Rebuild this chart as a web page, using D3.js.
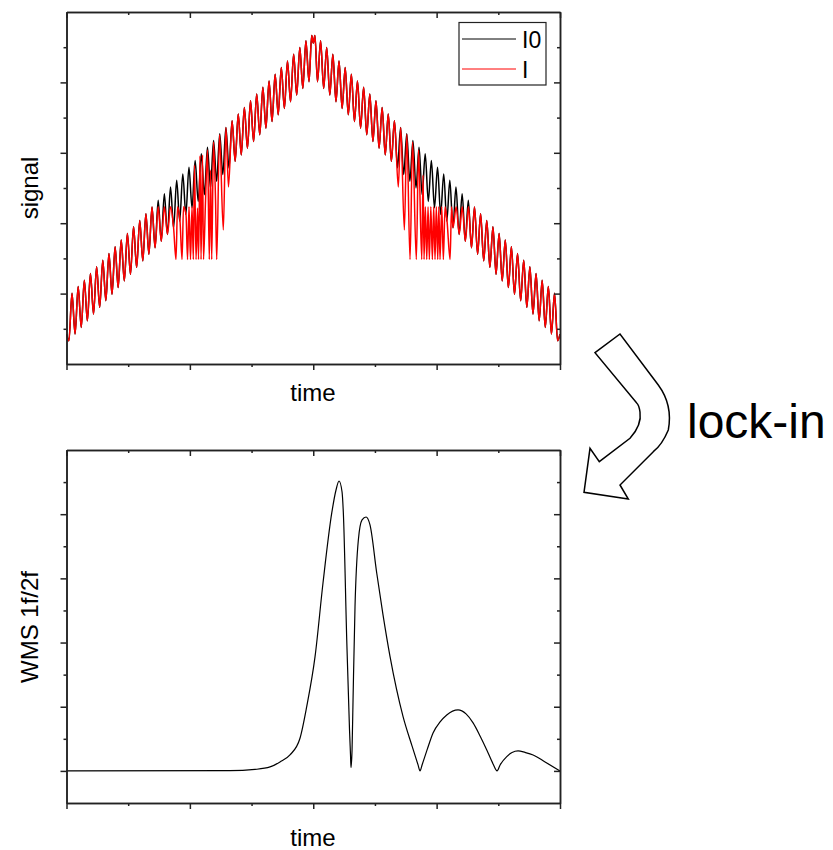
<!DOCTYPE html>
<html>
<head>
<meta charset="utf-8">
<script src="https://cdn.jsdelivr.net/npm/d3@7"></script>
<style>
    body { margin: 0; background: #fff; }
    text { font-family: "Liberation Sans", Arial, sans-serif; fill: #000; }
</style>
</head>
<body>
<div id="chart"></div>
<script>
// tick positions (time axis shared by both panels)
const xMajor = [0, 2, 4, 6, 8];
const xMinor = [1, 3, 5, 7];
const signalMajor = [2, 4, 6, 8];
const signalMinor = [1, 3, 5, 7, 9];
const wmsMajor = [0, 1, 2, 3, 4];
const wmsMinor = [0.5, 1.5, 2.5, 3.5, 4.5];

const seriesNames = ['I0', 'I'];

// I0: modulated ramp, [time, signal] read peak/trough by peak/trough
const i0Points = [
    [0, 0.85], [0.039, 0.66], [0.089, 2.01], [0.139, 0.85], [0.189, 2.20], [0.239, 1.04], [0.289, 2.38],
    [0.338, 1.23], [0.388, 2.57], [0.438, 1.42], [0.488, 2.76], [0.538, 1.61], [0.588, 2.95], [0.638, 1.80],
    [0.688, 3.14], [0.738, 1.98], [0.788, 3.33], [0.837, 2.17], [0.887, 3.52], [0.937, 2.36], [0.987, 3.71],
    [1.037, 2.55], [1.087, 3.90], [1.137, 2.74], [1.187, 4.08], [1.237, 2.93], [1.287, 4.27], [1.336, 3.12],
    [1.386, 4.46], [1.436, 3.30], [1.486, 4.65], [1.536, 3.49], [1.586, 4.84], [1.636, 3.68], [1.686, 5.03],
    [1.736, 3.87], [1.786, 5.22], [1.835, 4.06], [1.885, 5.40], [1.935, 4.25], [1.985, 5.59], [2.035, 4.44],
    [2.085, 5.78], [2.135, 4.62], [2.185, 5.97], [2.235, 4.81], [2.285, 6.16], [2.334, 5.00], [2.384, 6.35],
    [2.434, 5.19], [2.484, 6.54], [2.534, 5.38], [2.584, 6.72], [2.634, 5.57], [2.684, 6.91], [2.734, 5.76],
    [2.784, 7.10], [2.833, 5.94], [2.883, 7.29], [2.933, 6.13], [2.983, 7.48], [3.033, 6.32], [3.083, 7.67],
    [3.133, 6.51], [3.183, 7.86], [3.233, 6.70], [3.283, 8.04], [3.332, 6.89], [3.382, 8.23], [3.432, 7.08],
    [3.482, 8.42], [3.532, 7.26], [3.582, 8.61], [3.632, 7.45], [3.682, 8.80], [3.732, 7.64], [3.782, 8.99],
    [3.831, 7.83], [3.881, 9.18], [3.931, 8.02], [3.975, 9.33], [4.001, 9.12], [4.027, 9.33], [4.069, 8.02],
    [4.119, 9.18], [4.169, 7.83], [4.218, 8.99], [4.268, 7.64], [4.318, 8.80], [4.368, 7.45], [4.418, 8.61],
    [4.468, 7.26], [4.518, 8.42], [4.568, 7.08], [4.618, 8.23], [4.668, 6.89], [4.717, 8.04], [4.767, 6.70],
    [4.817, 7.86], [4.867, 6.51], [4.917, 7.67], [4.967, 6.32], [5.017, 7.48], [5.067, 6.13], [5.117, 7.29],
    [5.167, 5.94], [5.216, 7.10], [5.266, 5.76], [5.316, 6.91], [5.366, 5.57], [5.416, 6.72], [5.466, 5.38],
    [5.516, 6.54], [5.566, 5.19], [5.616, 6.35], [5.666, 5.00], [5.715, 6.16], [5.765, 4.81], [5.815, 5.97],
    [5.865, 4.62], [5.915, 5.78], [5.965, 4.44], [6.015, 5.59], [6.065, 4.25], [6.115, 5.40], [6.165, 4.06],
    [6.214, 5.22], [6.264, 3.87], [6.314, 5.03], [6.364, 3.68], [6.414, 4.84], [6.464, 3.49], [6.514, 4.65],
    [6.564, 3.30], [6.614, 4.46], [6.664, 3.12], [6.713, 4.27], [6.763, 2.93], [6.813, 4.08], [6.863, 2.74],
    [6.913, 3.90], [6.963, 2.55], [7.013, 3.71], [7.063, 2.36], [7.113, 3.52], [7.163, 2.17], [7.212, 3.33],
    [7.262, 1.98], [7.312, 3.14], [7.362, 1.80], [7.412, 2.95], [7.462, 1.61], [7.512, 2.76], [7.562, 1.42],
    [7.612, 2.57], [7.662, 1.23], [7.711, 2.38], [7.761, 1.04], [7.811, 2.20], [7.861, 0.85], [7.911, 2.01],
    [7.961, 0.66], [8, 0.85]
];

// I: same as I0 except inside the two absorption windows
const iLeftWindow = [
    [1.486, 4.47], [1.536, 3.49], [1.587, 4.47], [1.637, 3.68], [1.686, 4.47], [1.736, 3.87], [1.775, 2.97],
    [1.800, 4.47], [1.840, 4.06], [1.873, 2.97], [1.897, 4.47], [1.937, 4.25], [1.962, 2.97], [1.986, 4.47],
    [2.010, 2.97], [2.035, 4.47], [2.056, 2.97], [2.075, 5.65], [2.100, 2.97], [2.124, 4.43], [2.140, 2.97],
    [2.164, 5.91], [2.181, 2.97], [2.205, 5.94], [2.221, 2.97], [2.254, 4.66], [2.286, 6.08], [2.315, 2.97],
    [2.335, 5.51], [2.354, 2.97], [2.383, 6.31], [2.416, 4.66], [2.435, 2.97], [2.481, 6.51], [2.542, 3.81],
    [2.584, 6.72], [2.626, 5.03]
];
const iRightWindow = [
    [5.379, 5.03], [5.418, 6.72], [5.477, 3.81], [5.517, 6.53], [5.569, 2.97], [5.610, 6.31], [5.671, 2.97],
    [5.707, 6.08], [5.759, 2.97], [5.780, 5.37], [5.796, 2.97], [5.817, 4.47], [5.840, 2.97], [5.861, 4.47],
    [5.882, 2.97], [5.906, 4.47], [5.931, 2.97], [5.953, 4.47], [5.974, 2.97], [5.995, 4.47], [6.018, 2.97],
    [6.036, 4.47], [6.055, 2.97], [6.083, 4.47], [6.109, 2.97], [6.137, 4.47], [6.169, 4.06], [6.218, 2.97],
    [6.242, 4.47], [6.266, 3.87], [6.317, 4.47], [6.367, 3.68], [6.415, 4.47], [6.466, 3.49], [6.516, 4.47],
    [6.566, 3.30]
];

// lock-in output (WMS 1f/2f) [time, value]
const wmsPoints = [
    [0, 0], [2.651, 0.003], [3.056, 0.023], [3.299, 0.062], [3.461, 0.140], [3.623, 0.249], [3.785, 0.509],
    [3.894, 1.002], [4.029, 1.780], [4.158, 2.928], [4.300, 4.019], [4.369, 4.377], [4.418, 4.517],
    [4.467, 4.346], [4.488, 4.019], [4.543, 2.040], [4.588, 0.639], [4.604, 0.249], [4.612, 0.051],
    [4.629, 0.327], [4.645, 1.106], [4.677, 2.559], [4.731, 3.598], [4.791, 3.910], [4.856, 3.956],
    [4.920, 3.832], [5.029, 3.084], [5.131, 2.430], [5.245, 1.780], [5.456, 0.846], [5.601, 0.389],
    [5.699, 0.093], [5.731, 0], [5.764, 0.093], [5.845, 0.327], [5.942, 0.592], [6.056, 0.763],
    [6.164, 0.872], [6.347, 0.950], [6.477, 0.888], [6.591, 0.748], [6.704, 0.545], [6.813, 0.327],
    [6.915, 0.109], [6.980, 0], [7.029, 0.093], [7.137, 0.223], [7.223, 0.288], [7.320, 0.312],
    [7.434, 0.288], [7.564, 0.249], [7.758, 0.140], [8, 0]
];

(function () {

    const svg = d3.select('#chart')
        .append('svg')
        .attr('width', 833)
        .attr('height', 850);

    const x = d3.scaleLinear().domain([0, 8]).range([66.5, 560]);
    const ySig = d3.scaleLinear().domain([0, 10]).range([364, 12]);
    const yWms = d3.scaleLinear().domain([-0.5, 5]).range([803, 450]);

    // box with outward ticks left/bottom and inward ticks top/right
    function frame(y, yMajor, yMinor) {
        const g = svg.append('g');
        const [yb, yt] = y.range();
        const [xl, xr] = x.range();
        const add = (axis, tr) => g.append('g').attr('transform', tr).call(axis.tickSizeOuter(0).tickFormat(''));

        add(d3.axisBottom(x).tickValues(xMajor).tickSize(6), `translate(0,${yb})`);
        add(d3.axisBottom(x).tickValues(xMinor).tickSize(3), `translate(0,${yb})`);
        add(d3.axisTop(x).tickValues(xMajor).tickSize(-6), `translate(0,${yt})`);
        add(d3.axisTop(x).tickValues(xMinor).tickSize(-3), `translate(0,${yt})`);
        add(d3.axisLeft(y).tickValues(yMajor).tickSize(6), `translate(${xl},0)`);
        add(d3.axisLeft(y).tickValues(yMinor).tickSize(3), `translate(${xl},0)`);
        add(d3.axisRight(y).tickValues(yMajor).tickSize(-6), `translate(${xr},0)`);
        add(d3.axisRight(y).tickValues(yMinor).tickSize(-3), `translate(${xr},0)`);

        g.selectAll('.domain, .tick line')
            .attr('stroke', '#222')
            .attr('stroke-width', 1.5);
        return g;
    }

    svg.append('clipPath').attr('id', 'clipTop')
        .append('rect')
        .attr('x', 66.5).attr('y', 12)
        .attr('width', 493.5).attr('height', 352);

    const sigLine = d3.line()
        .x(d => x(d[0]))
        .y(d => ySig(d[1]))
        .curve(d3.curveMonotoneX);

    const iPoints = [
        ...i0Points.filter(d => d[0] <= 1.436),
        ...iLeftWindow,
        ...i0Points.filter(d => d[0] >= 2.684 && d[0] <= 5.316),
        ...iRightWindow,
        ...i0Points.filter(d => d[0] >= 6.614)
    ];

    const plot = svg.append('g').attr('clip-path', 'url(#clipTop)');
    plot.append('path')
        .datum(i0Points)
        .attr('d', sigLine)
        .attr('fill', 'none')
        .attr('stroke', '#000')
        .attr('stroke-width', 1.5);
    plot.append('path')
        .datum(iPoints)
        .attr('d', sigLine)
        .attr('fill', 'none')
        .attr('stroke', '#f00')
        .attr('stroke-width', 1.5);

    frame(ySig, signalMajor, signalMinor);

    // legend
    const legend = svg.append('g');
    legend.append('rect')
        .attr('x', 459).attr('y', 22.5)
        .attr('width', 87).attr('height', 62.5)
        .attr('fill', '#fff')
        .attr('stroke', '#222')
        .attr('stroke-width', 1.2);
    legend.selectAll('line')
        .data(seriesNames)
        .enter()
        .append('line')
        .attr('x1', 462).attr('x2', 516)
        .attr('y1', (d, i) => 39 + i * 30)
        .attr('y2', (d, i) => 39 + i * 30)
        .attr('stroke', (d, i) => i ? '#f00' : '#000')
        .attr('stroke-width', 1);
    legend.selectAll('text')
        .data(seriesNames)
        .enter()
        .append('text')
        .attr('x', 522)
        .attr('y', (d, i) => 48 + i * 30)
        .attr('font-size', 23)
        .text(d => d);

    // lower panel
    const wmsLine = d3.line()
        .x(d => x(d[0]))
        .y(d => yWms(d[1]))
        .curve(d3.curveMonotoneX);

    svg.append('path')
        .datum(wmsPoints)
        .attr('d', wmsLine)
        .attr('fill', 'none')
        .attr('stroke', '#000')
        .attr('stroke-width', 1.2);

    frame(yWms, wmsMajor, wmsMinor);

    // axis titles
    svg.append('text').attr('x', 313).attr('y', 401).attr('text-anchor', 'middle').attr('font-size', 24).text('time');
    svg.append('text').attr('x', 313).attr('y', 846).attr('text-anchor', 'middle').attr('font-size', 24).text('time');
    svg.append('text')
        .attr('transform', 'translate(38,188) rotate(-90)')
        .attr('text-anchor', 'middle').attr('font-size', 24).text('signal');
    svg.append('text')
        .attr('transform', 'translate(38,627) rotate(-90)')
        .attr('text-anchor', 'middle').attr('font-size', 24).text('WMS 1f/2f');

    // curved block arrow + label
    svg.append('path')
        .attr('d', 'M595,352.7 L620,334 L658.3,385 Q673,405 668.3,430 Q662,445 653.3,451.7 L620,485 L628.3,499 ' +
            'L584,492.3 L590,448.3 L599.3,461.7 L630,438.3 Q642,425 640,412 Q639,405 636.7,403 Z')
        .attr('fill', '#fff')
        .attr('stroke', '#000')
        .attr('stroke-width', 1.5)
        .attr('stroke-linejoin', 'miter');

    svg.append('text')
        .attr('x', 687)
        .attr('y', 438)
        .attr('font-size', 48)
        .text('lock-in');

})();
</script>
</body>
</html>
